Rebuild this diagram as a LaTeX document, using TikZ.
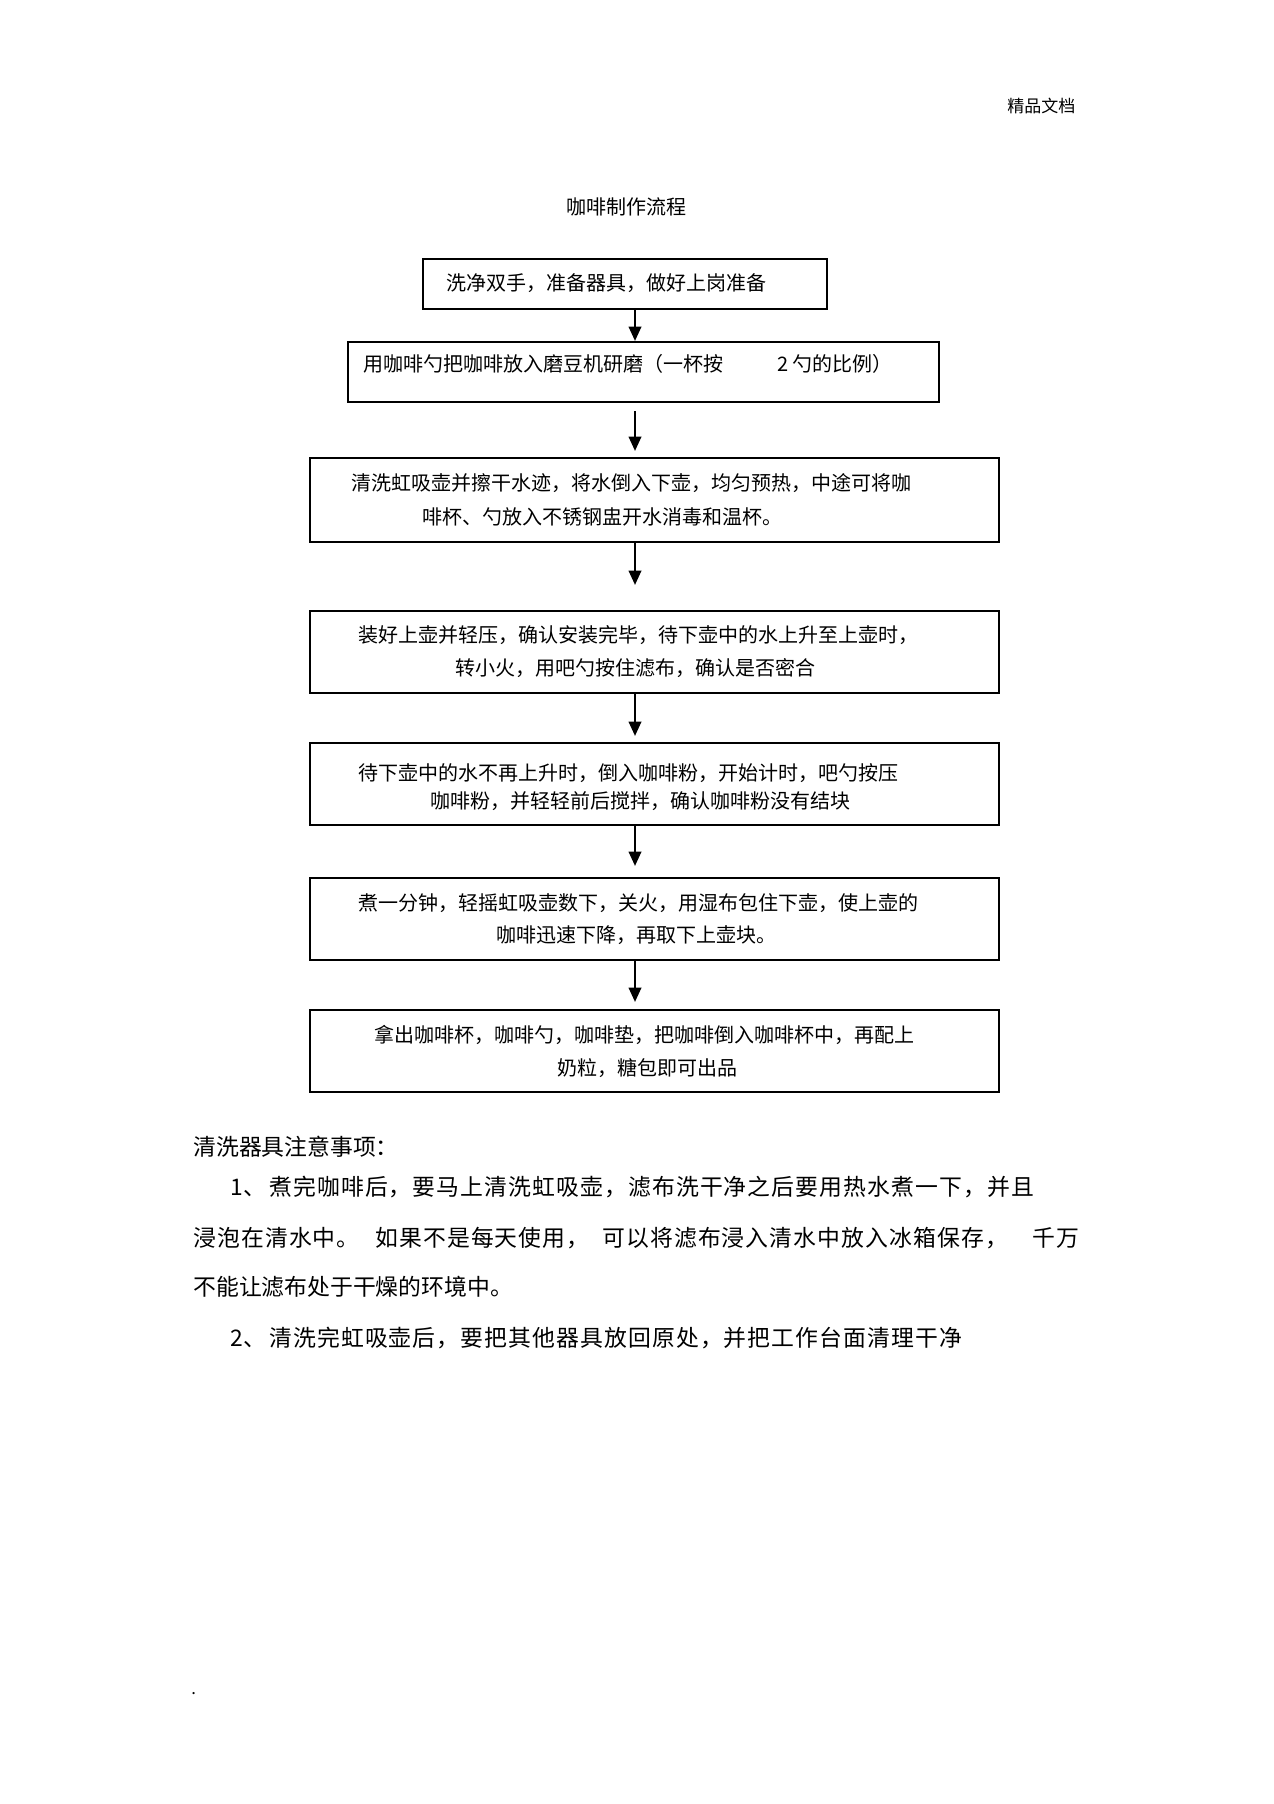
\documentclass[tikz,border=0pt]{standalone}
\usepackage{fontspec}
\setmainfont{Noto Sans CJK SC}
\newfontfamily\cjkA[LetterSpace=4.8]{Noto Sans CJK SC}
\usetikzlibrary{arrows.meta}
\begin{document}
\begin{tikzpicture}[x=0.6pt,y=-0.6pt,
  box/.style={draw=black,line width=1.2pt,inner sep=0,fill=none},
  btxt/.style={inner sep=0,anchor=west,text height=10.2pt,text depth=1.2pt,font=\fontsize{12}{12}\selectfont},
  ntxt/.style={inner sep=0,anchor=west,text height=11.6pt,text depth=1.4pt,font=\fontsize{13.7}{13.7}\selectfont},
  wtxt/.style={ntxt,font=\cjkA\fontsize{13.7}{13.7}\selectfont},
  arr/.style={line width=1.5pt,-{Triangle[length=8.6pt,width=7.4pt]}}]
\useasboundingbox (0,0) rectangle (1274,1804);
\fill[white] (0,0) rectangle (1274,1804);
% header and title
\node[inner sep=0,anchor=west,text height=8.7pt,text depth=1pt,font=\fontsize{10.2}{10.2}\selectfont] (hdr) at (1007,106) {精品文档};
\node[btxt] (title) at (566,207) {咖啡制作流程};
% boxes
\node[box,minimum width=242.4pt,minimum height=30pt] (b1) at (625,284) {};
\node[box,minimum width=354.6pt,minimum height=36pt] (b2) at (643.5,372) {};
\node[box,minimum width=413.4pt,minimum height=50.4pt] (b3) at (654.5,500) {};
\node[box,minimum width=413.4pt,minimum height=49.2pt] (b4) at (654.5,652) {};
\node[box,minimum width=413.4pt,minimum height=49.2pt] (b5) at (654.5,784) {};
\node[box,minimum width=413.4pt,minimum height=49.2pt] (b6) at (654.5,919) {};
\node[box,minimum width=413.4pt,minimum height=49.2pt] (b7) at (654.5,1051) {};
% box texts
\node[btxt] (t1) at (446,283) {洗净双手，准备器具，做好上岗准备};
\node[btxt] (t2a) at (363,364) {用咖啡勺把咖啡放入磨豆机研磨（一杯按};
\node[btxt] (t2b) at (777,364) {2 勺的比例）};
\node[btxt] (t3a) at (351,483) {清洗虹吸壶并擦干水迹，将水倒入下壶，均匀预热，中途可将咖};
\node[btxt] (t3b) at (422,517) {啡杯、勺放入不锈钢盅开水消毒和温杯。};
\node[btxt] (t4a) at (358,635) {装好上壶并轻压，确认安装完毕，待下壶中的水上升至上壶时，};
\node[btxt] (t4b) at (455,668) {转小火，用吧勺按住滤布，确认是否密合};
\node[btxt] (t5a) at (358,773) {待下壶中的水不再上升时，倒入咖啡粉，开始计时，吧勺按压};
\node[btxt] (t5b) at (430,801) {咖啡粉，并轻轻前后搅拌，确认咖啡粉没有结块};
\node[btxt] (t6a) at (358,903) {煮一分钟，轻摇虹吸壶数下，关火，用湿布包住下壶，使上壶的};
\node[btxt] (t6b) at (496,935) {咖啡迅速下降，再取下上壶块。};
\node[btxt] (t7a) at (374,1035) {拿出咖啡杯，咖啡勺，咖啡垫，把咖啡倒入咖啡杯中，再配上};
\node[btxt] (t7b) at (557,1068) {奶粒，糖包即可出品};
% arrows
\coordinate (ax) at (635,0);
\draw[arr] (b1.south -| ax) -- (b2.north -| ax);
\draw[arr,shorten <=4.8pt,shorten >=3.6pt] (b2.south -| ax) -- (b3.north -| ax);
\draw[arr,shorten >=15pt] (b3.south -| ax) -- (b4.north -| ax);
\draw[arr,shorten >=3.6pt] (b4.south -| ax) -- (b5.north -| ax);
\draw[arr,shorten >=6.6pt] (b5.south -| ax) -- (b6.north -| ax);
\draw[arr,shorten >=4.2pt] (b6.south -| ax) -- (b7.north -| ax);
% notes
\node[ntxt] (n0) at (193,1147) {清洗器具注意事项：};
\node[ntxt] (n1a) at (230,1187) {1、};
\node[wtxt] (n1b) at (269,1187) {煮完咖啡后，要马上清洗虹吸壶，滤布洗干净之后要用热水煮一下，并且};
\node[wtxt] (n2a) at (193,1238) {浸泡在清水中。};
\node[wtxt] (n2b) at (375,1238) {如果不是每天使用，};
\node[wtxt] (n2c) at (602,1238) {可以将滤布浸入清水中放入冰箱保存，};
\node[wtxt] (n2d) at (1032,1238) {千万};
\node[ntxt] (n3) at (193,1287) {不能让滤布处于干燥的环境中。};
\node[ntxt] (n4a) at (230,1338) {2、};
\node[wtxt] (n4b) at (269,1338) {清洗完虹吸壶后，要把其他器具放回原处，并把工作台面清理干净};
\node[inner sep=0,anchor=west,font=\fontsize{10}{10}\selectfont] (dot) at (191,1694) {.};
\end{tikzpicture}
\end{document}
